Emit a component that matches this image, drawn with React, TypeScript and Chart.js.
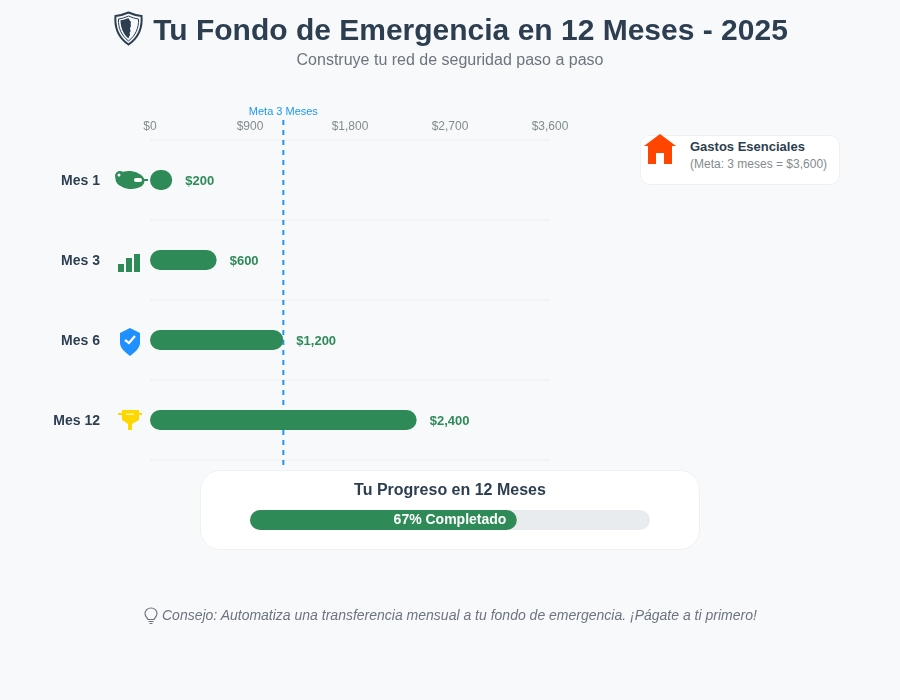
import React, { useEffect, useRef } from 'react';
import { Chart, registerables } from 'chart.js';

Chart.register(...registerables);

const FONT = '"Liberation Sans", Arial, sans-serif';

const months = ['Mes 1', 'Mes 3', 'Mes 6', 'Mes 12'];
const savings = [200, 600, 1200, 2400];
const axisMax = 3600;
const axisStep = 900;
const goalValue = 1200;
const goalLabel = 'Meta 3 Meses';
const progressPercent = [66.7];
const progressTrack = [100];
const progressLabel = '67% Completado';

const money = (v: number) => '$' + Number(v).toLocaleString('en-US');

// row icons, drawn around (0,0) = middle of the row
function drawIcon(ctx: CanvasRenderingContext2D, index: number) {
  if (index === 0) {
    ctx.fillStyle = '#2E8B57';
    ctx.beginPath();
    ctx.ellipse(0, 0, 14.5, 9, 0.1, 0, Math.PI * 2);
    ctx.fill();
    ctx.beginPath();
    ctx.arc(-10, -4, 5, 0, Math.PI * 2);
    ctx.fill();
    ctx.fillRect(13, -1, 5, 2);
    ctx.fillStyle = '#fff';
    ctx.beginPath();
    ctx.arc(-11, -5, 1.5, 0, Math.PI * 2);
    ctx.fill();
    ctx.beginPath();
    ctx.roundRect(4, -2, 8, 4, 2);
    ctx.fill();
  } else if (index === 1) {
    ctx.fillStyle = '#2E8B57';
    ctx.fillRect(-12, 4, 6, 8);
    ctx.fillRect(-4, -2, 6, 14);
    ctx.fillRect(4, -6, 6, 18);
  } else if (index === 2) {
    ctx.fillStyle = '#1E90FF';
    ctx.fill(new Path2D('M0 -12 L10 -7 V3 C10 8 5 12 0 16 C-5 12 -10 8 -10 3 V-7 Z'));
    ctx.strokeStyle = '#fff';
    ctx.lineWidth = 2.2;
    ctx.beginPath();
    ctx.moveTo(-5, 0);
    ctx.lineTo(-1, 3);
    ctx.lineTo(5, -4);
    ctx.stroke();
  } else {
    ctx.fillStyle = '#FFD700';
    ctx.fillRect(-12, -7, 24, 2);
    ctx.fill(new Path2D('M-8 -10 H9 V0 L2 4 V10 H-2 V4 L-8 0 Z'));
    ctx.fillStyle = '#FFF3A0';
    ctx.fillRect(-4, -6.5, 8, 1.5);
  }
}

const rowPlugin = {
  id: 'rowDecor',
  beforeDatasetsDraw(chart: any) {
    const { ctx, scales } = chart;
    const x = scales.x.getPixelForValue(goalValue);
    ctx.save();
    ctx.strokeStyle = '#2196F3';
    ctx.lineWidth = 2;
    ctx.setLineDash([5, 5]);
    ctx.beginPath();
    ctx.moveTo(x, 120);
    ctx.lineTo(x, 465);
    ctx.stroke();
    ctx.setLineDash([]);
    ctx.fillStyle = '#2196F3';
    ctx.font = `11px ${FONT}`;
    ctx.textAlign = 'center';
    ctx.textBaseline = 'middle';
    ctx.fillText(goalLabel, x, 112);
    ctx.restore();
  },
  afterDatasetsDraw(chart: any) {
    const { ctx, scales } = chart;
    const bars = chart.getDatasetMeta(0).data;
    ctx.save();
    ctx.textBaseline = 'middle';
    bars.forEach((bar: any, i: number) => {
      const y = scales.y.getPixelForValue(i);
      ctx.fillStyle = '#2E8B57';
      ctx.font = `bold 13px ${FONT}`;
      ctx.textAlign = 'left';
      ctx.fillText(money(savings[i]), bar.x + 13, y + 1);
      ctx.fillStyle = '#2c3e50';
      ctx.font = `bold 14px ${FONT}`;
      ctx.textAlign = 'right';
      ctx.fillText(months[i], 100, y + 1);
      ctx.save();
      ctx.translate(130, y);
      drawIcon(ctx, i);
      ctx.restore();
    });
    ctx.restore();
  },
};

const progressTextPlugin = {
  id: 'progressText',
  afterDatasetsDraw(chart: any) {
    const { ctx, chartArea } = chart;
    ctx.save();
    ctx.fillStyle = '#fff';
    ctx.font = `bold 14px ${FONT}`;
    ctx.textAlign = 'center';
    ctx.textBaseline = 'middle';
    ctx.fillText(progressLabel, (chartArea.left + chartArea.right) / 2, (chartArea.top + chartArea.bottom) / 2 + 0.5);
    ctx.restore();
  },
};

const App: React.FC = () => {
  const chartRef = useRef<HTMLCanvasElement>(null);
  const progressRef = useRef<HTMLCanvasElement>(null);

  useEffect(() => {
    if (!chartRef.current || !progressRef.current) return;

    const chart = new Chart(chartRef.current, {
      type: 'bar',
      data: {
        labels: months,
        datasets: [
          {
            data: savings,
            backgroundColor: '#2E8B57',
            barThickness: 20,
            borderRadius: 10,
            borderSkipped: false,
            inflateAmount: 0,
          },
        ],
      },
      options: {
        indexAxis: 'y',
        animation: false,
        responsive: false,
        layout: { padding: { right: 350, bottom: 240 } },
        plugins: { legend: { display: false }, tooltip: { enabled: false } },
        scales: {
          x: {
            position: 'top',
            min: 0,
            max: axisMax,
            afterFit: (s: any) => { s.height = 140; },
            grid: { display: false, tickLength: 4 },
            border: { display: false },
            ticks: {
              stepSize: axisStep,
              maxRotation: 0,
              padding: 2,
              color: '#7f8c8d',
              font: { family: FONT, size: 12 },
              callback: (v: any) => money(v),
            },
          },
          y: {
            afterFit: (s: any) => { s.width = 150; },
            grid: { color: '#f2f3f5', lineWidth: 2, drawTicks: false },
            border: { display: false },
            ticks: { display: false },
          },
        },
      },
      plugins: [rowPlugin],
    } as any);

    const progress = new Chart(progressRef.current, {
      type: 'bar',
      data: {
        labels: ['Progreso'],
        datasets: [
          { data: progressPercent, backgroundColor: '#2E8B57', order: 1 },
          { data: progressTrack, backgroundColor: '#e9ecef', order: 2 },
        ],
      },
      options: {
        indexAxis: 'y',
        animation: false,
        responsive: false,
        datasets: {
          bar: { grouped: false, barThickness: 20, borderRadius: 10, borderSkipped: false, inflateAmount: 0 },
        },
        plugins: { legend: { display: false }, tooltip: { enabled: false } },
        scales: {
          x: { display: false, min: 0, max: 100 },
          y: { display: false },
        },
      },
      plugins: [progressTextPlugin],
    } as any);

    return () => {
      chart.destroy();
      progress.destroy();
    };
  }, []);

  const text = (style: React.CSSProperties) => ({
    position: 'absolute' as const,
    whiteSpace: 'nowrap' as const,
    fontFamily: FONT,
    ...style,
  });

  return (
    <div style={{ position: 'absolute', left: 0, top: 0, width: 900, height: 700, background: '#f8f9fb', overflow: 'hidden' }}>
      <canvas ref={chartRef} width={900} height={700} style={{ position: 'absolute', left: 0, top: 0 }} />

      <svg width="30" height="36" viewBox="0 0 30 36" style={{ position: 'absolute', left: 114, top: 11 }}>
        <path d="M14.5 1.5 C19 3.5 23 4.5 27.5 5 C28.5 17 24 27 14.5 33.5 C5 27 0.5 17 1.5 5 C6 4.5 10 3.5 14.5 1.5 Z" fill="none" stroke="#2c3e50" strokeWidth="2" />
        <path d="M14.5 5 C18 6.5 21 7.5 24.5 8 C25 17 21.5 24.5 14.5 30 C7.5 24.5 4 17 4.5 8 C8 7.5 11 6.5 14.5 5 Z" fill="none" stroke="#2c3e50" strokeWidth="1" />
        <path d="M14.5 7 C12 8 9 9 6.5 9.3 C6.5 16 9 23 14.5 27.5 C15 25 17 24 15.5 22 C17.5 20 16 19 16 17 C18 15 16 13 17 11 C16 10 15 8 14.5 7 Z" fill="#2c3e50" />
      </svg>
      <div style={text({ left: 0, width: 900, paddingLeft: 41, boxSizing: 'border-box', top: 12, textAlign: 'center', fontSize: 30, fontWeight: 'bold', color: '#2c3e50', lineHeight: '36px' })}>
        Tu Fondo de Emergencia en 12 Meses - 2025
      </div>
      <div style={text({ left: 0, width: 900, top: 51, textAlign: 'center', fontSize: 16, color: '#6c757d', lineHeight: '18px' })}>
        Construye tu red de seguridad paso a paso
      </div>

      <div style={{ position: 'absolute', left: 640, top: 135, width: 200, height: 50, boxSizing: 'border-box', background: '#fff', border: '1.5px solid #eef0f2', borderRadius: 10 }} />
      <svg width="32" height="31" viewBox="0 0 32 31" style={{ position: 'absolute', left: 644, top: 134 }}>
        <path d="M16 0 L32 12 H28 V30 H20 V19 H12 V30 H4 V12 H0 Z" fill="#FF4500" />
      </svg>
      <div style={text({ left: 690, top: 139, fontSize: 13, fontWeight: 'bold', color: '#2c3e50', lineHeight: '16px' })}>Gastos Esenciales</div>
      <div style={text({ left: 690, top: 156, fontSize: 12, color: '#7f8c8d', lineHeight: '16px' })}>(Meta: 3 meses = $3,600)</div>

      <div style={{ position: 'absolute', left: 200, top: 470, width: 500, height: 80, boxSizing: 'border-box', background: '#fff', border: '1.5px solid #eef0f2', borderRadius: 20 }} />
      <div style={text({ left: 200, width: 500, top: 481, textAlign: 'center', fontSize: 16, fontWeight: 'bold', color: '#2c3e50', lineHeight: '18px' })}>Tu Progreso en 12 Meses</div>
      <canvas ref={progressRef} width={400} height={20} style={{ position: 'absolute', left: 250, top: 510 }} />

      <svg width="14" height="18" viewBox="0 0 14 18" style={{ position: 'absolute', left: 144, top: 607 }}>
        <path d="M7 1 C3.5 1 1 3.5 1 6.5 C1 9 3 10.5 4 12.5 H10 C11 10.5 13 9 13 6.5 C13 3.5 10.5 1 7 1 Z" fill="none" stroke="#6c757d" strokeWidth="1.2" />
        <path d="M4.5 14.5 H9.5 M5.5 16.5 H8.5" stroke="#6c757d" strokeWidth="1.2" />
      </svg>
      <div style={text({ left: 162, top: 607, fontSize: 14, fontStyle: 'italic', color: '#6c757d', lineHeight: '16px' })}>
        Consejo: Automatiza una transferencia mensual a tu fondo de emergencia. ¡Págate a ti primero!
      </div>
    </div>
  );
};

export default App;
